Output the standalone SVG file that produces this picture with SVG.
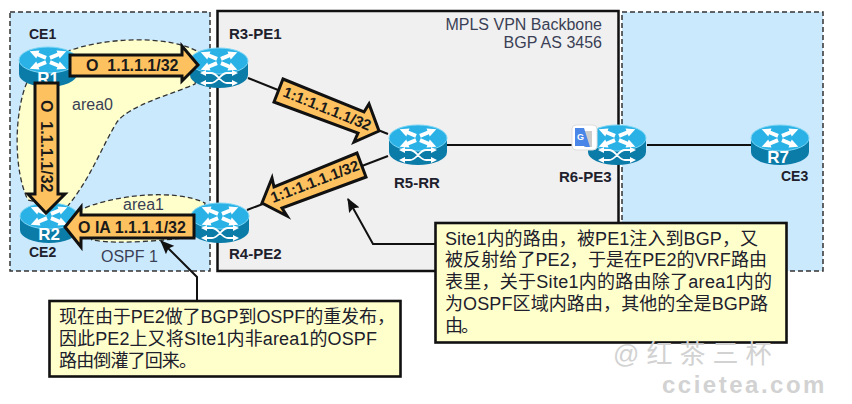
<svg xmlns="http://www.w3.org/2000/svg" xmlns:xlink="http://www.w3.org/1999/xlink" width="852" height="404" viewBox="0 0 852 404">
<style>
text{font-family:"Liberation Sans","Noto Sans CJK SC",sans-serif;fill:#20202c}
.zone{fill:#cbe9fd;stroke:#333;stroke-width:1.5;stroke-dasharray:5 3}
.blob{fill:#ffffcc;stroke:#333;stroke-width:1.3;stroke-dasharray:5 3}
.link{fill:none;stroke:#111;stroke-width:2}
.pointer{fill:none;stroke:#111;stroke-width:2;marker-end:url(#tip)}
.fat{fill:#fdc25f;stroke:#111;stroke-width:3;stroke-linejoin:miter}
.lbl{font-size:15px;font-weight:bold}
.ce{font-size:14px;font-weight:bold}
.reg{font-size:16px;fill:#3a3f55}
.fattxt{font-size:16px;font-weight:bold;fill:#1a1a1a}
.rottxt{font-size:15px;font-weight:bold;fill:#1a1a1a}
.rname{font-size:17px;font-weight:bold;fill:#fff;text-anchor:middle}
.note{fill:#ffffcc;stroke:#111;stroke-width:2.6}
.ntxt{font-size:18px}
.wm{fill:#d2d2d2;font-weight:bold}
</style>
<defs>
<marker id="tip" viewBox="0 0 12 10" refX="11" refY="5" markerWidth="7" markerHeight="6" orient="auto" markerUnits="strokeWidth"><path d="M0,0L12,5L0,10L2,5Z" fill="#111"/></marker>
<g id="a"><path d="M-2,-2.2L6,-2.2L6,-4.8L14,0L6,4.8L6,2.2L-2,2.2Z" fill="#fff"/></g>
<g id="rbody">
<path d="M-29,-7V7A29,13 0 0 0 29,7V-7Z" fill="#0b7ba8"/>
<ellipse cx="0" cy="-7" rx="29" ry="13" fill="#2ab2e6" stroke="#7cd6f5" stroke-width="1"/>
<use xlink:href="#a" transform="translate(-4,-10) rotate(-158) scale(1.1,.9)"/>
<use xlink:href="#a" transform="translate(4,-10) rotate(-22) scale(1.1,.9)"/>
<use xlink:href="#a" transform="translate(-4,-4) rotate(158) scale(1.1,.9)"/>
<use xlink:href="#a" transform="translate(4,-4) rotate(22) scale(1.1,.9)"/>
</g>
<g id="pe">
<use xlink:href="#rbody"/>
<path d="M-16,5H-8C-1,5 1,15 8,15H15M-16,15H-8C-1,15 1,5 8,5H15" fill="none" stroke="#fff" stroke-width="1.8"/>
<path d="M19,5L13,2V8ZM19,15L13,12V18ZM-19,5L-13,2V8ZM-19,15L-13,12V18Z" fill="#fff"/>
</g>
</defs>
<rect width="852" height="404" fill="#fff"/>
<g id="zones">
<rect class="zone" x="10" y="12" width="200" height="259"/>
<rect x="217.500" y="11" width="401" height="260" fill="#f0f0f0" stroke="#111" stroke-width="2.500"/>
<rect class="zone" x="622" y="12" width="201" height="259"/>
<text x="602" y="30" class="reg" text-anchor="end">MPLS VPN Backbone</text>
<text x="602" y="48" class="reg" text-anchor="end">BGP AS 3456</text>
</g>
<g id="areas">
<path class="blob" d="M66,52C100,38 170,33 202,54L195,84C170,95 130,105 117,122C100,150 90,180 66,208L28,200C13,170 14,110 28,80Z"/>
<path class="blob" d="M78,211C110,195 175,188 205,203L200,236C170,240 120,245 92,240Z"/>
<text x="72" y="110" class="reg">area0</text>
<text x="123" y="210" class="reg">area1</text>
<text x="101" y="262" class="reg">OSPF 1</text>
</g>
<g id="connectors">
<path class="link" d="M248,78L388,134"/>
<path class="link" d="M388,156L247,210"/>
<path class="link" d="M447,145H587"/>
<path class="link" d="M647,145H752"/>
<path class="pointer" d="M197,300V277L161,241"/>
<path class="pointer" d="M440,244H373L348,199"/>
</g>
<g id="node-R1"><use xlink:href="#rbody" transform="translate(48,67)"/><text x="48" y="84" class="rname">R1</text><text x="29" y="39" class="ce">CE1</text></g>
<g id="node-R2"><use xlink:href="#rbody" transform="translate(49,223)"/><text x="49" y="240" class="rname">R2</text><text x="29" y="257" class="ce">CE2</text></g>
<g id="node-R3"><use xlink:href="#pe" transform="translate(219,68)"/><text x="229" y="39" class="lbl">R3-PE1</text></g>
<g id="node-R4"><use xlink:href="#pe" transform="translate(220,223)"/><text x="229" y="259" class="lbl">R4-PE2</text></g>
<g id="node-R5"><use xlink:href="#pe" transform="translate(418,145)"/><text x="394" y="188" class="lbl">R5-RR</text></g>
<g id="node-R6"><use xlink:href="#pe" transform="translate(617,145)"/><text x="559" y="182" class="lbl">R6-PE3</text></g>
<g id="node-R7"><use xlink:href="#rbody" transform="translate(780,145)"/><text x="778" y="163" class="rname">R7</text><text x="781" y="181" class="ce">CE3</text></g>
<g id="route-arrows">
<path class="fat" d="M70,55H182V46L198,65L182,81V76H70Z"/>
<text x="86" y="71" class="fattxt" xml:space="preserve">O  1.1.1.1/32</text>
<path class="fat" d="M35,83H58V194H65L46,213L28,194H35Z"/>
<text transform="translate(41,100) rotate(90)" class="fattxt" xml:space="preserve">O  1.1.1.1/32</text>
<path class="fat" d="M194,215V238H81V247L65,227L81,207V215Z"/>
<text x="78" y="233" class="fattxt">O IA 1.1.1.1/32</text>
<path class="fat" d="M283,79L364,112L369,104L379,131L354,142L358,133L274,102Z"/>
<text transform="translate(282,96) rotate(22)" class="rottxt">1:1:1.1.1.1/32</text>
<path class="fat" d="M357,153L366,177L282,208L287,216L262,203L272,178L274,187Z"/>
<text transform="translate(273,203) rotate(-21)" class="rottxt">1:1:1.1.1.1/32</text>
</g>
<g id="note-left">
<rect class="note" x="49.500" y="301" width="351" height="75.500"/>
<text class="ntxt" x="59" y="323" textLength="336">现在由于PE2做了BGP到OSPF的重发布，</text>
<text class="ntxt" x="59" y="345" textLength="318">因此PE2上又将SIte1内非area1的OSPF</text>
<text class="ntxt" x="59" y="367" textLength="138">路由倒灌了回来。</text>
</g>
<g id="note-right">
<rect class="note" x="435.500" y="223" width="351" height="119.500"/>
<text class="ntxt" x="445" y="245" textLength="313">Site1内的路由，被PE1注入到BGP，又</text>
<text class="ntxt" x="445" y="266" textLength="322">被反射给了PE2，于是在PE2的VRF路由</text>
<text class="ntxt" x="445" y="288" textLength="327">表里，关于Site1内的路由除了area1内的</text>
<text class="ntxt" x="445" y="310" textLength="323">为OSPF区域内路由，其他的全是BGP路</text>
<text class="ntxt" x="445" y="332" textLength="34">由。</text>
</g>
<g id="translate-badge">
<rect x="572" y="125" width="25" height="25" rx="4" fill="#fff" stroke="#ddd"/>
<path d="M584,131H592V147H584Z" fill="#ccc"/>
<path d="M575,128H584L590,147H586L584,146H575Z" fill="#4a86e8"/>
<text x="577" y="140" style="font-size:9px;font-weight:bold;fill:#fff">G</text>
</g>
<g id="watermark">
<text class="wm" x="613" y="363" style="font-size:26px;font-weight:normal" letter-spacing="7">@红茶三杯</text>
<text class="wm" x="662" y="393" style="font-size:24px" letter-spacing="2.500">ccietea.com</text>
</g>
</svg>
